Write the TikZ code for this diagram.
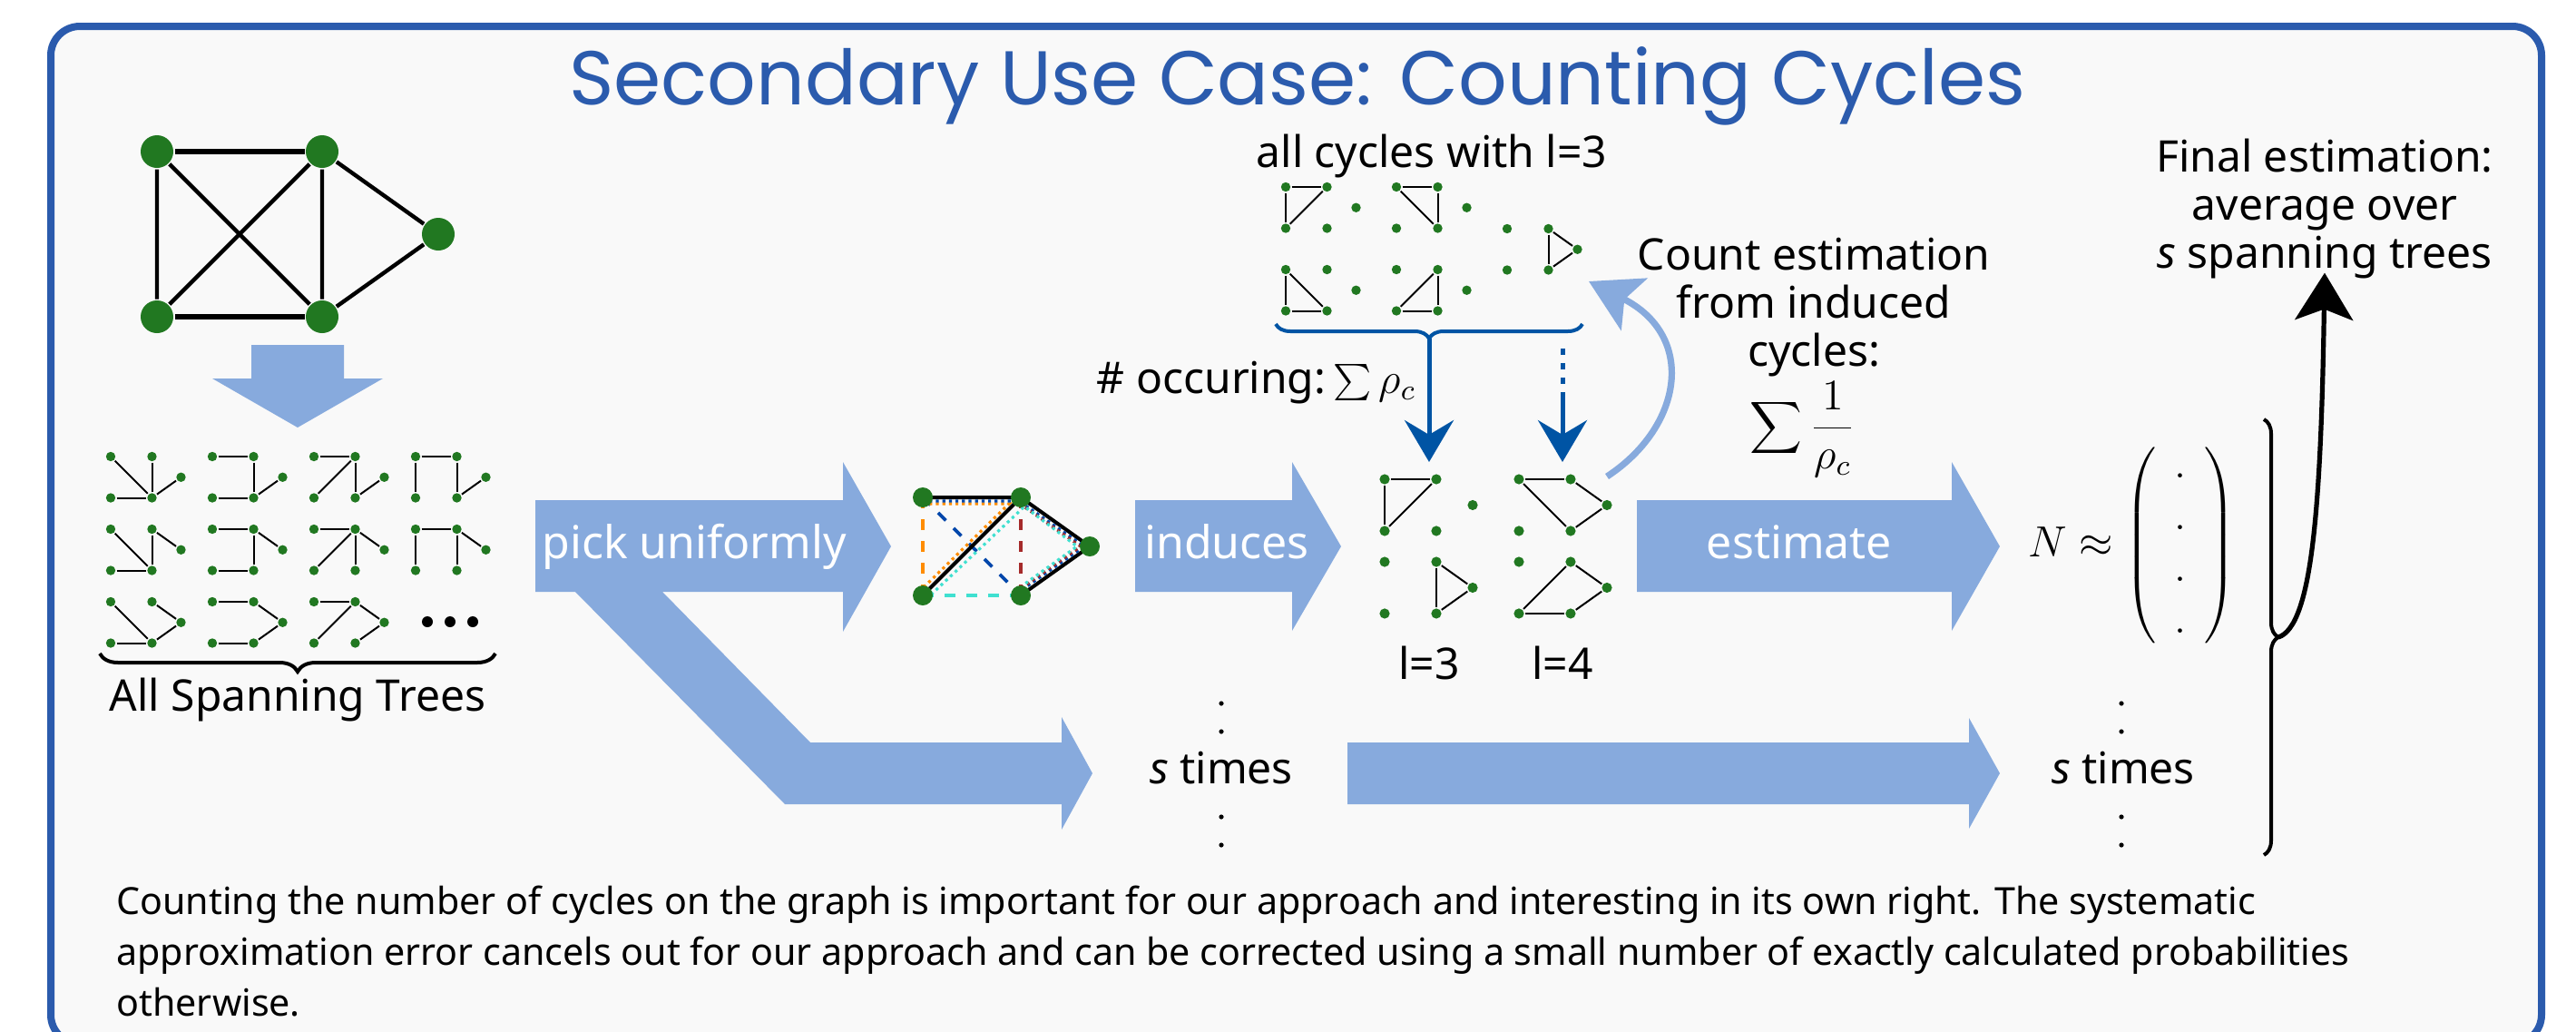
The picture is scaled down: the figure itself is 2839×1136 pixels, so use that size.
\documentclass[tikz,border=0pt]{standalone}
\usepackage[no-math]{fontspec}
\setmainfont{Noto Sans}
\newfontfamily\titlefont{Poppins}
\usetikzlibrary{arrows.meta,decorations.pathreplacing,calc}

\definecolor{framecol}{RGB}{43,91,173}
\definecolor{bgcol}{RGB}{249,249,249}
\definecolor{flowcol}{RGB}{135,170,221}
\definecolor{vertcol}{RGB}{33,120,33}
\definecolor{sumcol}{RGB}{0,84,164}
\definecolor{cycA}{RGB}{255,140,0}
\definecolor{cycB}{RGB}{0,71,171}
\definecolor{cycC}{RGB}{165,42,42}
\definecolor{cycD}{RGB}{64,224,208}

\tikzset{every picture/.style={line width=0.75pt},
  vertex/.style={circle,fill=vertcol,inner sep=0pt,minimum size=#1},
  vertex/.default=2.6pt,
  tedge/.style={line width=0.5pt},
  flow/.style={fill=flowcol,draw=none},
  flowtxt/.style={text=white,inner sep=0pt,font=\fontsize{12.5}{15}\selectfont},
  txt/.style={inner sep=0pt,font=\fontsize{12}{13.2}\selectfont},
  sumarrow/.style={sumcol,line width=1.25pt,-{Stealth[length=11.5pt,width=13.5pt,inset=4pt]}},
  tinydot/.style={circle,fill=black,inner sep=0pt,minimum size=1.3pt}}

% five vertices a,b,e,c,d of the base graph, scaled, with a list of edges
\newcommand{\minigraph}[6][2.6pt]{%
  \foreach \vn/\vx/\vy in {a/0/0,b/182/0,e/310/91,c/0/182,d/182/182}
    \node[vertex=#1] (#2\vn) at ({#3+#5*\vx},{#4+#5*\vy}) {};
  \foreach \p/\q in {#6} \draw[tedge] (#2\p) -- (#2\q);
}

\begin{document}
\begin{tikzpicture}[x=0.25pt,y=0.25pt,yscale=-1]
\useasboundingbox (0,0) rectangle (2839,1136);
\fill[white] (0,0) rectangle (2839,1136);

%Shape: Frame
\draw[framecol,fill=bgcol,line width=2pt,rounded corners=8pt] (56,29) rectangle (2801,1150);

% Text Node
\node[font=\titlefont\fontsize{21}{25}\selectfont,text=framecol,anchor=base] (title) at (1430,115) {Secondary Use Case: Counting Cycles};

%Graph: input graph
\node[vertex=9pt] (g1) at (173,167) {};
\node[vertex=9pt] (g2) at (355,167) {};
\node[vertex=9pt] (g5) at (483,258) {};
\node[vertex=9pt] (g3) at (173,349) {};
\node[vertex=9pt] (g4) at (355,349) {};
\draw[line width=1.1pt] (g1) -- (g3) (g2) -- (g4) (g1) -- (g4) (g3) -- (g2) (g2) -- (g5) (g4) -- (g5);
\draw[line width=1.5pt] (g1) -- (g2) (g3) -- (g4);

%Shape: Down Arrow
\fill[flow] (277,380) -- (379,380) -- (379,417) -- (422,417) -- (328,471) -- (234,417) -- (277,417) -- cycle;

%Graph: spanning trees
\minigraph{t00}{122}{503}{0.25}{a/d,b/d,d/e,c/d}
\minigraph{t01}{234}{503}{0.25}{a/b,b/d,c/d,d/e}
\minigraph{t02}{346}{503}{0.25}{a/b,c/b,b/d,d/e}
\minigraph{t03}{458}{503}{0.25}{a/b,a/c,b/d,d/e}
\minigraph{t10}{122}{583}{0.25}{a/d,b/d,b/e,c/d}
\minigraph{t11}{234}{583}{0.25}{a/b,b/d,b/e,c/d}
\minigraph{t12}{346}{583}{0.25}{a/b,c/b,b/d,b/e}
\minigraph{t13}{458}{583}{0.25}{a/b,a/c,b/d,b/e}
\minigraph{t20}{122}{663}{0.25}{a/d,b/e,e/d,c/d}
\minigraph{t21}{234}{663}{0.25}{a/b,b/e,e/d,c/d}
\minigraph{t22}{346}{663}{0.25}{a/b,c/b,b/e,e/d}
\node[circle,fill=black,inner sep=0pt,minimum size=3pt] (more1) at (471,685) {};
\node[circle,fill=black,inner sep=0pt,minimum size=3pt] (more2) at (496,685) {};
\node[circle,fill=black,inner sep=0pt,minimum size=3pt] (more3) at (521,685) {};

%Curly brace
\draw[decorate,decoration={brace,amplitude=5pt},line width=1pt] (546,720) -- (110,720);
% Text Node
\node[txt,anchor=base] (alltrees) at (328,783) {All Spanning Trees};

%Shape: pick uniformly, with its branch to the s times row
\fill[flow] (590,551) -- (929,551) -- (929,509) -- (982,602) -- (929,696) -- (929,652) -- (730,652) -- (893,818) -- (1170,818) -- (1170,790) -- (1204,852) -- (1170,914) -- (1170,886) -- (865,886) -- (634,652) -- (590,652) -- cycle;
% Text Node
\node[flowtxt,anchor=base] (pick) at (765,615) {pick uniformly};

%Graph: picked tree with induced cycles
\coordinate (m1) at (1017,548);
\coordinate (m2) at (1125,548);
\coordinate (m5) at (1201,602);
\coordinate (m3) at (1017,656);
\coordinate (m4) at (1125,656);
\draw[cycA,dashed,line width=0.9pt] (m1) -- (m3);
\draw[cycB,dashed,line width=0.9pt] (m1) -- (m4);
\draw[cycC,dashed,line width=0.9pt] (m2) -- (m4);
\draw[cycD,dashed,line width=0.9pt] (m3) -- (m4);
\draw[line width=1pt] (m1) -- (m2) -- (m3) (m2) -- (m5) -- (m4);
\draw[cycA,densely dotted,line width=0.8pt] ($(m1)+(0,7)$) -- ($(m2)+(-13,7)$) -- ($(m3)+(-4,-4)$);
\draw[cycB,densely dotted,line width=0.8pt] ($(m1)+(0,4)$) -- ($(m2)+(-2,4)$) -- ($(m5)+(-6,0)$) -- ($(m4)+(-2,-4)$);
\draw[cycC,densely dotted,line width=0.8pt] ($(m2)+(-1,7)$) -- ($(m5)+(-10,0)$) -- ($(m4)+(-1,-7)$);
\draw[cycD,densely dotted,line width=0.8pt] ($(m3)+(4,4)$) -- ($(m2)+(4,10)$) -- ($(m5)+(-14,0)$) -- ($(m4)+(2,-11)$);
\node[vertex=5.5pt] (m1n) at (m1) {};
\node[vertex=5.5pt] (m2n) at (m2) {};
\node[vertex=5.5pt] (m5n) at (m5) {};
\node[vertex=5.5pt] (m3n) at (m3) {};
\node[vertex=5.5pt] (m4n) at (m4) {};

%Shape: induces
\fill[flow] (1251,551) -- (1424,551) -- (1424,509) -- (1478,602) -- (1424,695) -- (1424,652) -- (1251,652) -- cycle;
% Text Node
\node[flowtxt,anchor=base] (induces) at (1352,615) {induces};

%Graph: induced cycles by length
\minigraph[2.8pt]{ca}{1526}{528}{0.313}{a/b,a/c,c/b}
\minigraph[2.8pt]{cb}{1526}{619}{0.313}{b/e,e/d,b/d}
\minigraph[2.8pt]{cc}{1674}{528}{0.313}{a/b,a/d,b/e,e/d}
\minigraph[2.8pt]{cd}{1674}{619}{0.313}{b/e,e/d,d/c,c/b}
% Text Node
\node[txt,anchor=base] (len3) at (1575,748) {l=3};
% Text Node
\node[txt,anchor=base] (len4) at (1722,748) {l=4};

% Text Node
\node[txt,anchor=base] (allcyc) at (1578,184) {all cycles with l=3};
%Graph: all cycles of length 3
\minigraph{k1}{1417}{206}{0.25}{a/b,a/c,c/b}
\minigraph{k2}{1539}{206}{0.25}{a/b,b/d,a/d}
\minigraph{k3}{1661}{252}{0.25}{b/e,e/d,b/d}
\minigraph{k4}{1417}{297}{0.25}{a/c,c/d,a/d}
\minigraph{k5}{1539}{297}{0.25}{b/d,c/d,c/b}

%Curly brace
\draw[sumcol,decorate,decoration={brace,amplitude=4pt},line width=1pt] (1744,357) -- (1406,357);
\coordinate (occtip) at (1575,373);
\coordinate (len3in) at (1575,509);
\coordinate (len4dots) at (1722,384);
\coordinate (len4from) at (1722,434);
\coordinate (len4in) at (1722,509);
\draw[sumarrow] (occtip) -- (len3in);
\draw[sumcol,line width=1.25pt,dash pattern=on 1.8pt off 2.2pt] (len4dots) -- (len4from);
\draw[sumarrow] (len4from) -- (len4in);
% Text Node
\node[txt,anchor=base east] (occur) at (1562,433) {\# occuring:\,$\sum\rho_c$};

%Curve Lines
\coordinate (loopstart) at (1771,525);
\coordinate (loopend) at (1751,310);
\draw[flowcol,line width=1.8pt,-{Stealth[length=14pt,width=16pt,inset=3pt]}] (loopstart) .. controls (1855,470) and (1870,370) .. (loopend);

% Text Node
\node[txt,align=center,anchor=north] (count) at (1999,261) {Count estimation\\from induced\\cycles:};
% Text Node
\node[txt] (countsum) at (1987,473) {$\displaystyle\sum\frac{1}{\rho_c}$};

%Shape: estimate
\fill[flow] (1804,551) -- (2151,551) -- (2151,509) -- (2204,602) -- (2151,695) -- (2151,652) -- (1804,652) -- cycle;
% Text Node
\node[flowtxt,anchor=base] (estimate) at (1983,615) {estimate};

% Text Node
\node[txt] (approx) at (2350,601) {$N \approx \renewcommand{\arraystretch}{1.08}\left(\begin{array}{c}.\\.\\.\\.\end{array}\right)$};

%Curly brace
\draw[decorate,decoration={brace,amplitude=4pt},line width=1pt] (2495,462) -- (2495,942);
\coordinate (avgtip) at (2511,702);
% Text Node
\node[txt,align=center,anchor=north] (final) at (2562,152) {Final estimation:\\average over\\\textit{s} spanning trees};
%Curve Lines
\draw[line width=1.3pt,-{Stealth[length=13pt,width=16pt,inset=3pt]}] (avgtip) .. controls (2548,690) and (2558,560) .. ([yshift=-2pt]final.south);

%Shape: s times row
\fill[flow] (1485,818) -- (2170,818) -- (2170,791) -- (2204,852) -- (2170,913) -- (2170,886) -- (1485,886) -- cycle;
% Text Node
\node[txt,anchor=base] (times1) at (1346,863) {\textit{s} times};
% Text Node
\node[txt,anchor=base] (times2) at (2340,863) {\textit{s} times};
\foreach \yy [count=\k] in {775,806,900,931}{
  \node[tinydot] (dotsA\k) at (1346,\yy) {};
  \node[tinydot] (dotsB\k) at (2338,\yy) {};
}

% Text Node
\node[inner sep=0pt,font=\fontsize{10.3}{14}\selectfont,align=left,anchor=north west] (note) at (127,974) {Counting the number of cycles on the graph is important for our approach and interesting in its own right. The systematic\\approximation error cancels out for our approach and can be corrected using a small number of exactly calculated probabilities\\otherwise.};

\end{tikzpicture}
\end{document}
